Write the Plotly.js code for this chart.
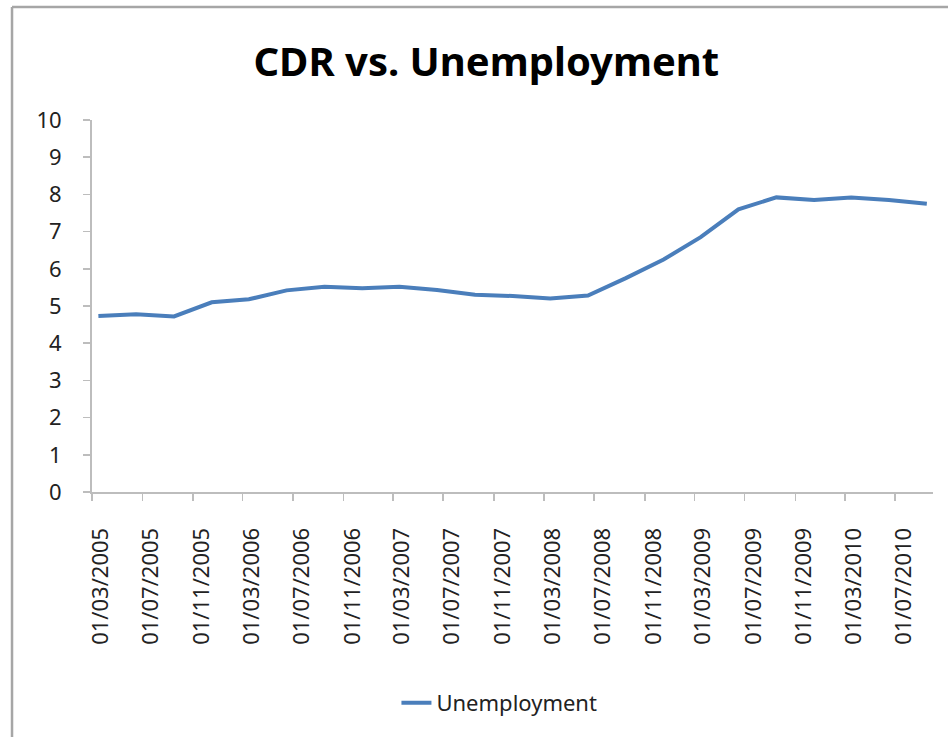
<!DOCTYPE html>
<html>
<head>
<meta charset="utf-8">
<script src="https://cdn.plot.ly/plotly-3.0.1.min.js"></script>
<style>
  html, body { margin: 0; padding: 0; background: #ffffff; }
  #chart { width: 948px; height: 737px; }
</style>
</head>
<body>
<div id="chart"></div>
<script>
// Quarterly observation dates (first day of month)
const dates = [
  '2005-03-01','2005-06-01','2005-09-01','2005-12-01',
  '2006-03-01','2006-06-01','2006-09-01','2006-12-01',
  '2007-03-01','2007-06-01','2007-09-01','2007-12-01',
  '2008-03-01','2008-06-01','2008-09-01','2008-12-01',
  '2009-03-01','2009-06-01','2009-09-01','2009-12-01',
  '2010-03-01','2010-06-01','2010-09-01'
];
// Unemployment rate (%)
const unemployment = [
  4.73, 4.78, 4.72, 5.10,
  5.18, 5.42, 5.52, 5.48,
  5.52, 5.43, 5.30, 5.27,
  5.20, 5.28, 5.75, 6.25,
  6.85, 7.60, 7.92, 7.85,
  7.92, 7.85, 7.75
];
const seriesName = 'Unemployment';
const chartTitle = 'CDR vs. Unemployment';
const yTicks = [0,1,2,3,4,5,6,7,8,9,10];

const FONT = '"Noto Sans", "Open Sans", sans-serif';

const trace = {
  type: 'scatter',
  mode: 'lines',
  name: seriesName,
  x: dates,
  y: unemployment,
  xperiod: 'M1',
  xperiodalignment: 'middle',
  line: { color: '#4a7ebb', width: 4 },
  hoverinfo: 'x+y'
};

const borderColor = '#a6a6a6';

const layout = {
  width: 948,
  height: 737,
  margin: { l: 92, r: 15, t: 120, b: 245, pad: 0 },
  paper_bgcolor: '#ffffff',
  plot_bgcolor: '#ffffff',
  font: { family: FONT, color: '#222222', size: 22 },
  title: {
    text: chartTitle,
    font: { family: FONT, size: 40, color: '#000000', weight: 'bold' },
    xref: 'container', x: 0.513, xanchor: 'center',
    yref: 'container', y: 0.916, yanchor: 'middle'
  },
  xaxis: {
    type: 'date',
    range: ['2005-03-01', '2010-10-01'],
    tick0: '2005-03-01',
    dtick: 'M4',
    tickformat: '%d/%m/%Y',
    tickangle: -90,
    ticks: 'outside',
    ticklen: 7,
    tickwidth: 1.5,
    tickcolor: '#bdbdbd',
    ticklabelshift: 9,
    ticklabelstandoff: 18,
    showline: true,
    linecolor: '#bdbdbd',
    linewidth: 2,
    showgrid: false,
    zeroline: false,
    automargin: false,
    tickfont: { family: FONT, size: 22, color: '#222222' }
  },
  yaxis: {
    range: [0, 10],
    tickvals: yTicks,
    ticktext: yTicks.map(String),
    ticks: 'outside',
    ticklen: 7,
    tickwidth: 1.5,
    tickcolor: '#bdbdbd',
    ticklabelstandoff: 17,
    showline: true,
    linecolor: '#bdbdbd',
    linewidth: 2,
    showgrid: false,
    zeroline: false,
    automargin: false,
    tickfont: { family: FONT, size: 22, color: '#222222' }
  },
  showlegend: true,
  legend: {
    orientation: 'h',
    xref: 'paper', x: 0.362, xanchor: 'left',
    yref: 'paper', y: -0.567, yanchor: 'middle',
    font: { family: FONT, size: 22, color: '#222222' },
    bgcolor: 'rgba(0,0,0,0)'
  },
  shapes: [
    { type: 'line', xref: 'paper', yref: 'paper',
      x0: -0.0951, x1: -0.0951, y0: 1.3038, y1: -0.70,
      line: { color: borderColor, width: 2.5 } },
    { type: 'line', xref: 'paper', yref: 'paper',
      x0: -0.0951, x1: 1.05, y0: 1.3038, y1: 1.3038,
      line: { color: borderColor, width: 2.5 } }
  ]
};

Plotly.newPlot('chart', [trace], layout, { displayModeBar: false, staticPlot: true });
</script>
</body>
</html>
